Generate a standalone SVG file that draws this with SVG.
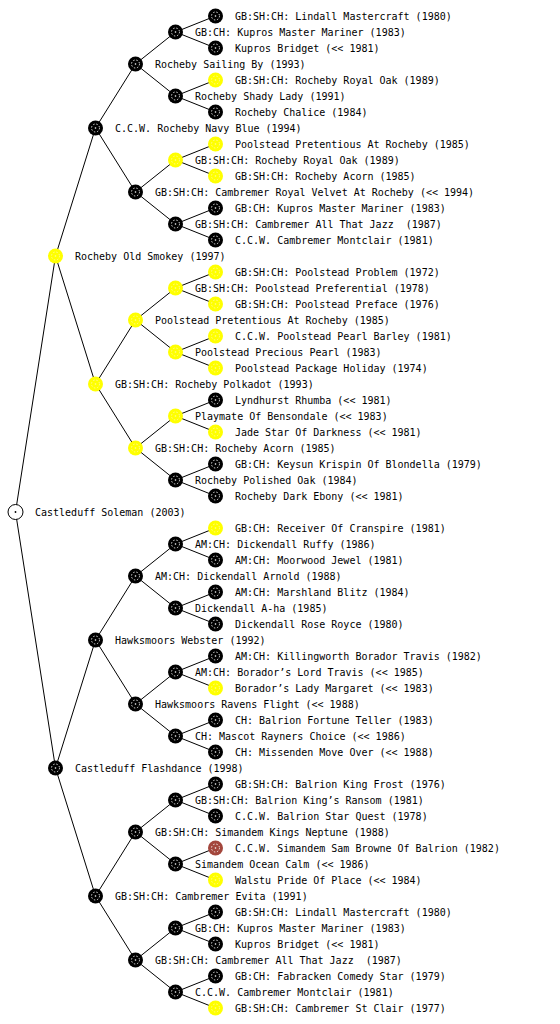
<svg xmlns="http://www.w3.org/2000/svg" width="560" height="1024" viewBox="0 0 560 1024">
<style>
.bg{fill:#ffffff}
.t{font-family:"DejaVu Sans Mono","Liberation Mono",monospace;font-size:10px;fill:#000}
.b{fill:#000}
.y{fill:#ffff00}
.r{fill:#a3463c}
.ring{fill:none;stroke:#ffffff;stroke-width:1;stroke-dasharray:1.4 1.8;opacity:0.85}
.ringy{fill:none;stroke:#fff8a0;stroke-width:1;stroke-dasharray:1.4 1.8;opacity:0.9}
.root{fill:#fff;stroke:#000;stroke-width:1}
.edges{stroke:#000;stroke-width:1;fill:none}
</style>
<defs>
<g id="mb"><circle r="7.5" class="b"/><circle r="4" class="ring"/><circle r="0.8" fill="#fff"/></g>
<g id="my"><circle r="7.5" class="y"/><circle r="4" class="ringy"/><circle r="0.8" fill="#fff8a0"/></g>
<g id="mr"><circle r="7.5" class="r"/><circle r="4" class="ring"/><circle r="0.8" fill="#fff"/></g>
</defs>
<rect class="bg" x="0" y="0" width="560" height="1024"/>
<g id="connectors" class="edges">
<path d="M15.5 512L55.5 256M15.5 512L55.5 768
M55.5 256L95.5 128M55.5 256L95.5 384M55.5 768L95.5 640M55.5 768L95.5 896
M95.5 128L135.5 64M95.5 128L135.5 192M95.5 384L135.5 320M95.5 384L135.5 448
M95.5 640L135.5 576M95.5 640L135.5 704M95.5 896L135.5 832M95.5 896L135.5 960
M135.5 64L175.5 32M135.5 64L175.5 96M135.5 192L175.5 160M135.5 192L175.5 224
M135.5 320L175.5 288M135.5 320L175.5 352M135.5 448L175.5 416M135.5 448L175.5 480
M135.5 576L175.5 544M135.5 576L175.5 608M135.5 704L175.5 672M135.5 704L175.5 736
M135.5 832L175.5 800M135.5 832L175.5 864M135.5 960L175.5 928M135.5 960L175.5 992
M175.5 32L215.5 16M175.5 32L215.5 48M175.5 96L215.5 80M175.5 96L215.5 112
M175.5 160L215.5 144M175.5 160L215.5 176M175.5 224L215.5 208M175.5 224L215.5 240
M175.5 288L215.5 272M175.5 288L215.5 304M175.5 352L215.5 336M175.5 352L215.5 368
M175.5 416L215.5 400M175.5 416L215.5 432M175.5 480L215.5 464M175.5 480L215.5 496
M175.5 544L215.5 528M175.5 544L215.5 560M175.5 608L215.5 592M175.5 608L215.5 624
M175.5 672L215.5 656M175.5 672L215.5 688M175.5 736L215.5 720M175.5 736L215.5 752
M175.5 800L215.5 784M175.5 800L215.5 816M175.5 864L215.5 848M175.5 864L215.5 880
M175.5 928L215.5 912M175.5 928L215.5 944M175.5 992L215.5 976M175.5 992L215.5 1008"/>
</g>
<g id="n0"><circle cx="15.5" cy="512" r="7.5" class="root"/><circle cx="15.5" cy="512" r="0.9" fill="#000"/><text class="t" x="35" y="516">Castleduff Soleman (2003)</text></g>
<g id="n1a"><use href="#my" x="55.5" y="256"/><text class="t" x="75" y="260">Rocheby Old Smokey (1997)</text></g>
<g id="n1b"><use href="#mb" x="55.5" y="768"/><text class="t" x="75" y="772">Castleduff Flashdance (1998)</text></g>
<g id="n2a"><use href="#mb" x="95.5" y="128"/><text class="t" x="115" y="132">C.C.W. Rocheby Navy Blue (1994)</text></g>
<g id="n2b"><use href="#my" x="95.5" y="384"/><text class="t" x="115" y="388">GB:SH:CH: Rocheby Polkadot (1993)</text></g>
<g id="n2c"><use href="#mb" x="95.5" y="640"/><text class="t" x="115" y="644">Hawksmoors Webster (1992)</text></g>
<g id="n2d"><use href="#mb" x="95.5" y="896"/><text class="t" x="115" y="900">GB:SH:CH: Cambremer Evita (1991)</text></g>
<g id="n3a"><use href="#mb" x="135.5" y="64"/><text class="t" x="155" y="68">Rocheby Sailing By (1993)</text></g>
<g id="n3b"><use href="#mb" x="135.5" y="192"/><text class="t" x="155" y="196">GB:SH:CH: Cambremer Royal Velvet At Rocheby (&lt;&lt; 1994)</text></g>
<g id="n3c"><use href="#my" x="135.5" y="320"/><text class="t" x="155" y="324">Poolstead Pretentious At Rocheby (1985)</text></g>
<g id="n3d"><use href="#my" x="135.5" y="448"/><text class="t" x="155" y="452">GB:SH:CH: Rocheby Acorn (1985)</text></g>
<g id="n3e"><use href="#mb" x="135.5" y="576"/><text class="t" x="155" y="580">AM:CH: Dickendall Arnold (1988)</text></g>
<g id="n3f"><use href="#mb" x="135.5" y="704"/><text class="t" x="155" y="708">Hawksmoors Ravens Flight (&lt;&lt; 1988)</text></g>
<g id="n3g"><use href="#mb" x="135.5" y="832"/><text class="t" x="155" y="836">GB:SH:CH: Simandem Kings Neptune (1988)</text></g>
<g id="n3h"><use href="#mb" x="135.5" y="960"/><text class="t" x="155" y="964" xml:space="preserve">GB:SH:CH: Cambremer All That Jazz  (1987)</text></g>
<g id="n4a"><use href="#mb" x="175.5" y="32"/><text class="t" x="195" y="36">GB:CH: Kupros Master Mariner (1983)</text></g>
<g id="n4b"><use href="#mb" x="175.5" y="96"/><text class="t" x="195" y="100">Rocheby Shady Lady (1991)</text></g>
<g id="n4c"><use href="#my" x="175.5" y="160"/><text class="t" x="195" y="164">GB:SH:CH: Rocheby Royal Oak (1989)</text></g>
<g id="n4d"><use href="#mb" x="175.5" y="224"/><text class="t" x="195" y="228" xml:space="preserve">GB:SH:CH: Cambremer All That Jazz  (1987)</text></g>
<g id="n4e"><use href="#my" x="175.5" y="288"/><text class="t" x="195" y="292">GB:SH:CH: Poolstead Preferential (1978)</text></g>
<g id="n4f"><use href="#my" x="175.5" y="352"/><text class="t" x="195" y="356">Poolstead Precious Pearl (1983)</text></g>
<g id="n4g"><use href="#my" x="175.5" y="416"/><text class="t" x="195" y="420">Playmate Of Bensondale (&lt;&lt; 1983)</text></g>
<g id="n4h"><use href="#mb" x="175.5" y="480"/><text class="t" x="195" y="484">Rocheby Polished Oak (1984)</text></g>
<g id="n4i"><use href="#mb" x="175.5" y="544"/><text class="t" x="195" y="548">AM:CH: Dickendall Ruffy (1986)</text></g>
<g id="n4j"><use href="#mb" x="175.5" y="608"/><text class="t" x="195" y="612">Dickendall A-ha (1985)</text></g>
<g id="n4k"><use href="#mb" x="175.5" y="672"/><text class="t" x="195" y="676">AM:CH: Borador’s Lord Travis (&lt;&lt; 1985)</text></g>
<g id="n4l"><use href="#mb" x="175.5" y="736"/><text class="t" x="195" y="740">CH: Mascot Rayners Choice (&lt;&lt; 1986)</text></g>
<g id="n4m"><use href="#mb" x="175.5" y="800"/><text class="t" x="195" y="804">GB:SH:CH: Balrion King’s Ransom (1981)</text></g>
<g id="n4n"><use href="#mb" x="175.5" y="864"/><text class="t" x="195" y="868">Simandem Ocean Calm (&lt;&lt; 1986)</text></g>
<g id="n4o"><use href="#mb" x="175.5" y="928"/><text class="t" x="195" y="932">GB:CH: Kupros Master Mariner (1983)</text></g>
<g id="n4p"><use href="#mb" x="175.5" y="992"/><text class="t" x="195" y="996">C.C.W. Cambremer Montclair (1981)</text></g>
<g id="n5a"><use href="#mb" x="215.5" y="16"/><text class="t" x="235" y="20">GB:SH:CH: Lindall Mastercraft (1980)</text></g>
<g id="n5b"><use href="#mb" x="215.5" y="48"/><text class="t" x="235" y="52">Kupros Bridget (&lt;&lt; 1981)</text></g>
<g id="n5c"><use href="#my" x="215.5" y="80"/><text class="t" x="235" y="84">GB:SH:CH: Rocheby Royal Oak (1989)</text></g>
<g id="n5d"><use href="#mb" x="215.5" y="112"/><text class="t" x="235" y="116">Rocheby Chalice (1984)</text></g>
<g id="n5e"><use href="#my" x="215.5" y="144"/><text class="t" x="235" y="148">Poolstead Pretentious At Rocheby (1985)</text></g>
<g id="n5f"><use href="#my" x="215.5" y="176"/><text class="t" x="235" y="180">GB:SH:CH: Rocheby Acorn (1985)</text></g>
<g id="n5g"><use href="#mb" x="215.5" y="208"/><text class="t" x="235" y="212">GB:CH: Kupros Master Mariner (1983)</text></g>
<g id="n5h"><use href="#mb" x="215.5" y="240"/><text class="t" x="235" y="244">C.C.W. Cambremer Montclair (1981)</text></g>
<g id="n5i"><use href="#my" x="215.5" y="272"/><text class="t" x="235" y="276">GB:SH:CH: Poolstead Problem (1972)</text></g>
<g id="n5j"><use href="#my" x="215.5" y="304"/><text class="t" x="235" y="308">GB:SH:CH: Poolstead Preface (1976)</text></g>
<g id="n5k"><use href="#my" x="215.5" y="336"/><text class="t" x="235" y="340">C.C.W. Poolstead Pearl Barley (1981)</text></g>
<g id="n5l"><use href="#my" x="215.5" y="368"/><text class="t" x="235" y="372">Poolstead Package Holiday (1974)</text></g>
<g id="n5m"><use href="#mb" x="215.5" y="400"/><text class="t" x="235" y="404">Lyndhurst Rhumba (&lt;&lt; 1981)</text></g>
<g id="n5n"><use href="#my" x="215.5" y="432"/><text class="t" x="235" y="436">Jade Star Of Darkness (&lt;&lt; 1981)</text></g>
<g id="n5o"><use href="#mb" x="215.5" y="464"/><text class="t" x="235" y="468">GB:CH: Keysun Krispin Of Blondella (1979)</text></g>
<g id="n5p"><use href="#mb" x="215.5" y="496"/><text class="t" x="235" y="500">Rocheby Dark Ebony (&lt;&lt; 1981)</text></g>
<g id="n5q"><use href="#my" x="215.5" y="528"/><text class="t" x="235" y="532">GB:CH: Receiver Of Cranspire (1981)</text></g>
<g id="n5r"><use href="#mb" x="215.5" y="560"/><text class="t" x="235" y="564">AM:CH: Moorwood Jewel (1981)</text></g>
<g id="n5s"><use href="#mb" x="215.5" y="592"/><text class="t" x="235" y="596">AM:CH: Marshland Blitz (1984)</text></g>
<g id="n5t"><use href="#mb" x="215.5" y="624"/><text class="t" x="235" y="628">Dickendall Rose Royce (1980)</text></g>
<g id="n5u"><use href="#mb" x="215.5" y="656"/><text class="t" x="235" y="660">AM:CH: Killingworth Borador Travis (1982)</text></g>
<g id="n5v"><use href="#my" x="215.5" y="688"/><text class="t" x="235" y="692">Borador’s Lady Margaret (&lt;&lt; 1983)</text></g>
<g id="n5w"><use href="#mb" x="215.5" y="720"/><text class="t" x="235" y="724">CH: Balrion Fortune Teller (1983)</text></g>
<g id="n5x"><use href="#mb" x="215.5" y="752"/><text class="t" x="235" y="756">CH: Missenden Move Over (&lt;&lt; 1988)</text></g>
<g id="n5y"><use href="#mb" x="215.5" y="784"/><text class="t" x="235" y="788">GB:SH:CH: Balrion King Frost (1976)</text></g>
<g id="n5z"><use href="#mb" x="215.5" y="816"/><text class="t" x="235" y="820">C.C.W. Balrion Star Quest (1978)</text></g>
<g id="n5aa"><use href="#mr" x="215.5" y="848"/><text class="t" x="235" y="852">C.C.W. Simandem Sam Browne Of Balrion (1982)</text></g>
<g id="n5ab"><use href="#my" x="215.5" y="880"/><text class="t" x="235" y="884">Walstu Pride Of Place (&lt;&lt; 1984)</text></g>
<g id="n5ac"><use href="#mb" x="215.5" y="912"/><text class="t" x="235" y="916">GB:SH:CH: Lindall Mastercraft (1980)</text></g>
<g id="n5ad"><use href="#mb" x="215.5" y="944"/><text class="t" x="235" y="948">Kupros Bridget (&lt;&lt; 1981)</text></g>
<g id="n5ae"><use href="#mb" x="215.5" y="976"/><text class="t" x="235" y="980">GB:CH: Fabracken Comedy Star (1979)</text></g>
<g id="n5af"><use href="#my" x="215.5" y="1008"/><text class="t" x="235" y="1012">GB:SH:CH: Cambremer St Clair (1977)</text></g>
</svg>
